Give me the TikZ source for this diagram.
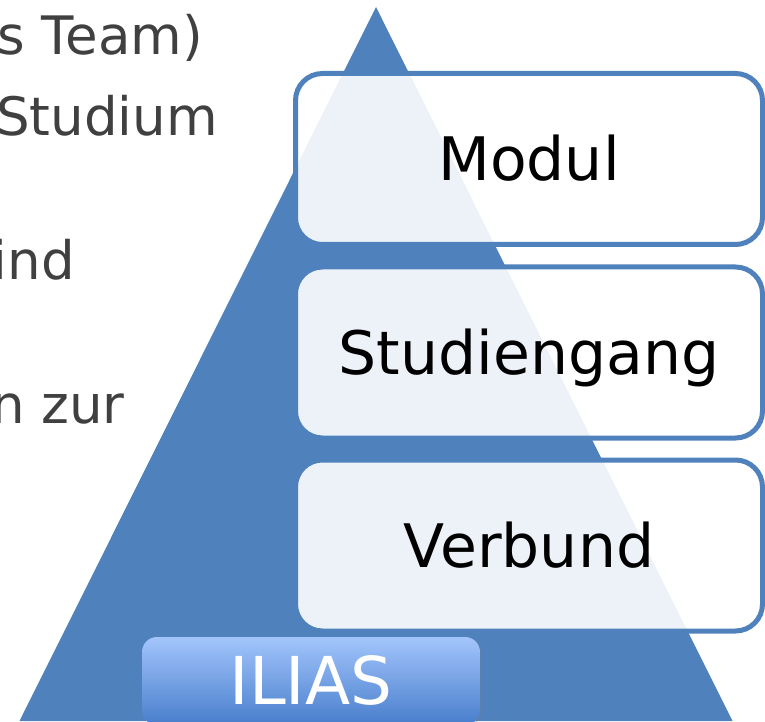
\documentclass[tikz,border=0pt]{standalone}
\usepackage{fontspec}
\setmainfont{DejaVu Sans}
\usepackage{xcolor}
\usepackage{tikz}
\usetikzlibrary{positioning, shadows}
\definecolor{pyr}{RGB}{79, 129, 189}
\definecolor{txt}{RGB}{64, 64, 64}
\definecolor{iliastop}{RGB}{163, 197, 252}
\definecolor{iliasbot}{RGB}{72, 126, 204}
\tikzset{
    levelnode/.style = {draw=pyr, rectangle, rounded corners=27pt, line width=5pt, 
      fill=white, fill opacity=0.9, text opacity=1, minimum width=467pt, minimum height=171pt, 
      text height=44pt, text depth=0pt, node distance=0em, font=\fontsize{60}{72}\selectfont},
    basenode/.style = {rectangle, rounded corners=15pt, top color=iliastop, bottom color=iliasbot, 
      text=white, minimum width=338pt, minimum height=88pt, text height=46pt, text depth=0pt, 
      drop shadow={shadow xshift=2pt, shadow yshift=-1pt, opacity=0.25}, font=\fontsize{66}{78}\selectfont},
    textnode/.style  = {draw=none, fill=none, rectangle, inner sep = 0em, anchor=base east, 
      text=txt, font=\fontsize{53}{64}\selectfont}
}

\begin{document}
\begin{tikzpicture}[x=1pt, y=1pt]
\useasboundingbox (0,0) rectangle (765,721);
\clip (0,0) rectangle (765,721);

% text on the left, cut off by the slide
\node[textnode, name=line1] at (203,666) {s Team)};
\node[textnode, name=line2] at (218,585) {Studium};
\node[textnode, name=line3] at (75,441) {ind};
\node[textnode, name=line4] at (125,298) {n zur};

% pyramid
\fill[pyr] (376,714) -- (732.5,0) -- (19.5,0) -- cycle;

\node[levelnode, name=modul] at (529,562) {Modul};
\node[levelnode, name=studiengang, below of = modul, yshift=-193.5pt] {Studiengang};
\node[levelnode, name=verbund, below of = studiengang, yshift=-193pt] {Verbund};

\node[basenode, name=ilias] at (311,40) {ILIAS};
\end{tikzpicture}
\end{document}
